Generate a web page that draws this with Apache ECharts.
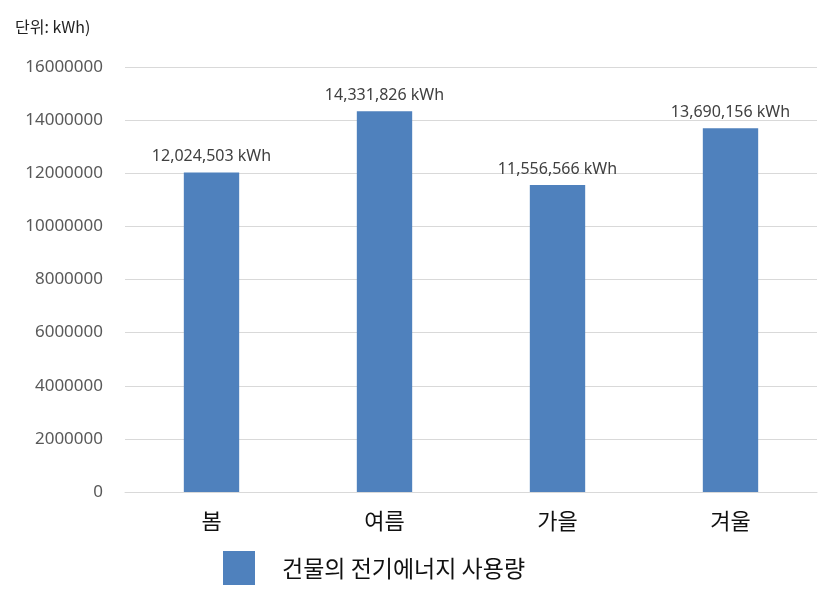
<!DOCTYPE html>
<html>
<head>
<meta charset="utf-8">
<script src="https://cdn.jsdelivr.net/npm/echarts@6/dist/echarts.min.js"></script>
<style>html,body{margin:0;padding:0;background:#fff}#main{width:827px;height:599px}</style>
</head>
<body>
<div id="main"></div>
<script>
// 데이터
const seasons = ['봄', '여름', '가을', '겨울'];
const usage = [12024503, 14331826, 11556566, 13690156];
const seriesName = '건물의 전기에너지 사용량';
const yTicks = [0, 2000000, 4000000, 6000000, 8000000, 10000000, 12000000, 14000000, 16000000];

const chart = echarts.init(document.getElementById('main'));
chart.setOption({
    animation: false,
    title: {
        text: '단위: kWh)',
        left: 10, top: 14,
        textStyle: { fontSize: 16, fontWeight: 'normal', color: '#222', fontFamily: 'Noto Sans CJK KR' }
    },
    legend: {
        data: [{ name: seriesName, icon: 'rect' }],
        bottom: 9, left: 218,
        itemWidth: 32, itemHeight: 34, itemGap: 30,
        textStyle: { fontSize: 23, color: '#111', fontFamily: 'Noto Sans CJK KR', padding: [0, 0, 0, 22] }
    },
    grid: { left: 125, right: 10, top: 67, bottom: 107 },
    xAxis: {
        type: 'category',
        data: seasons,
        axisLine: { lineStyle: { color: '#d9d9d9' } },
        axisTick: { show: false },
        axisLabel: { fontSize: 22, color: '#111', margin: 18, fontFamily: 'Noto Sans CJK KR' }
    },
    yAxis: {
        type: 'value',
        min: yTicks[0], max: yTicks[yTicks.length - 1], interval: 2000000,
        axisLine: { show: false },
        axisTick: { show: false },
        splitLine: { lineStyle: { color: '#d9d9d9' } },
        axisLabel: { fontSize: 17, color: '#595959', margin: 22, fontFamily: 'Noto Sans', formatter: v => String(v) }
    },
    series: [{
        name: seriesName,
        type: 'bar',
        data: usage,
        barWidth: '32%',
        itemStyle: { color: '#4f81bd' },
        label: {
            show: true, position: 'top', distance: 8,
            fontSize: 16, color: '#404040', fontFamily: 'Noto Sans',
            formatter: p => p.value.toLocaleString('en-US') + ' kWh'
        }
    }]
});
</script>
</body>
</html>
